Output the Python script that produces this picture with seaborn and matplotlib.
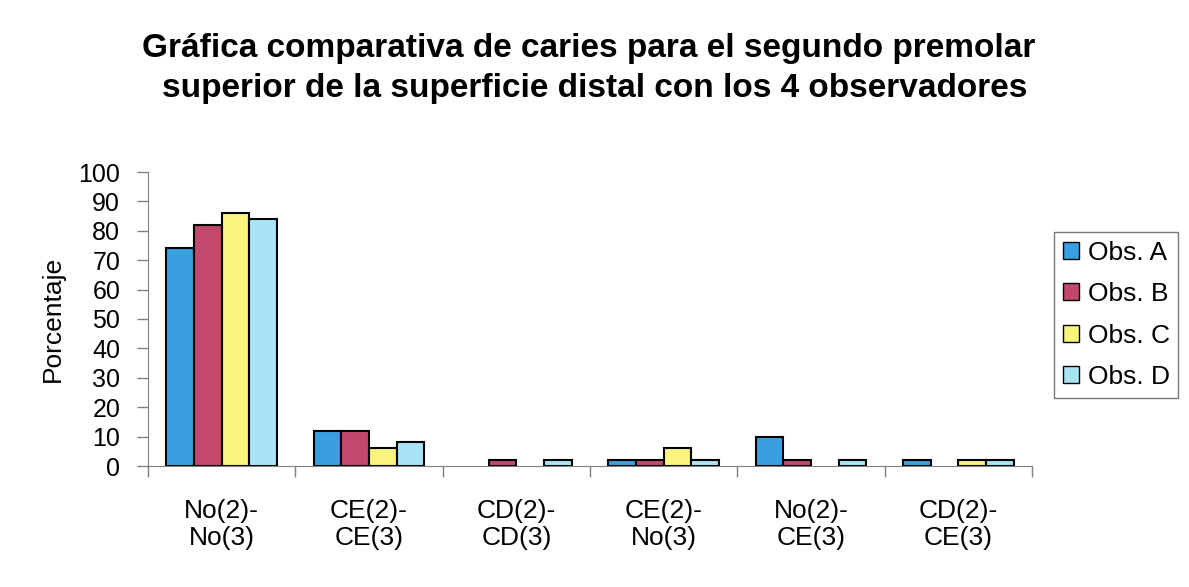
import matplotlib
matplotlib.use("Agg")
import matplotlib.pyplot as plt
import seaborn as sns
import pandas as pd
import numpy as np
from matplotlib.ticker import FixedLocator

categories = ["No(2)-\nNo(3)", "CE(2)-\nCE(3)", "CD(2)-\nCD(3)", "CE(2)-\nNo(3)", "No(2)-\nCE(3)", "CD(2)-\nCE(3)"]
series = ["Obs. A", "Obs. B", "Obs. C", "Obs. D"]
obs_a = [74, 12, 0, 2, 10, 2]
obs_b = [82, 12, 2, 2, 2, 0]
obs_c = [86, 6, 0, 6, 0, 2]
obs_d = [84, 8, 2, 2, 2, 2]
colors = ["#3a9fe0", "#c2496c", "#f8f47c", "#a8e4f6"]

rows = []
for s, vals in zip(series, [obs_a, obs_b, obs_c, obs_d]):
    for c, v in zip(categories, vals):
        rows.append({"cat": c, "obs": s, "val": v})
df = pd.DataFrame(rows)

sns.set_style("white")
plt.rcParams['font.family'] = ['Liberation Sans', 'DejaVu Sans']
plt.rcParams['text.color'] = 'black'
plt.rcParams['xtick.color'] = '#808080'
plt.rcParams['ytick.color'] = '#808080'
plt.rcParams['xtick.labelcolor'] = 'black'
plt.rcParams['ytick.labelcolor'] = 'black'
plt.rcParams['axes.labelcolor'] = 'black'

fig = plt.figure(figsize=(11.89, 5.87), dpi=100)
ax = fig.add_axes([148/1189, 1 - 466/587, 884/1189, 294/587])
sns.barplot(data=df, x="cat", y="val", hue="obs", palette=colors, width=0.75,
            edgecolor="black", linewidth=1.5, saturation=1, ax=ax)
for p in ax.patches:
    if p.get_height() == 0:
        p.set_linewidth(0)
ax.set_ylim(0, 100)
ax.set_xlim(-0.5, 5.5)
ax.set_yticks(np.arange(0, 101, 10))
ax.tick_params(axis='y', labelsize=18, length=8, width=1, direction='out', left=True, pad=12)
ax.tick_params(axis='x', which='major', labelsize=19, length=0, pad=24)
for t in ax.get_xticklabels():
    t.set_linespacing(1.12)
ax.xaxis.set_minor_locator(FixedLocator(np.arange(-0.5, 6, 1)))
ax.tick_params(axis='x', which='minor', length=8, width=1, direction='out', bottom=True)
ax.set_xlabel("")
ax.set_ylabel("Porcentaje", fontsize=19, labelpad=10)
for sp in ["top", "right"]:
    ax.spines[sp].set_visible(False)
ax.spines["left"].set_color("#808080")
ax.spines["bottom"].set_color("#808080")

leg = ax.legend(loc="upper left", bbox_to_anchor=(1054/1189, 1 - 232/587),
                bbox_transform=fig.transFigure, fontsize=19, frameon=True,
                fancybox=False, edgecolor="#555555", handlelength=0.6,
                handleheight=0.6, handletextpad=0.35, labelspacing=0.66, borderpad=0.33,
                borderaxespad=0)
leg.get_frame().set_linewidth(1)
for h in leg.legend_handles:
    h.set_edgecolor("black")
    h.set_linewidth(1)

fig.text(589/1189, 1 - 48/587, "Gráfica comparativa de caries para el segundo premolar",
         ha="center", va="center", fontsize=24, fontweight="bold")
fig.text(595/1189, 1 - 89/587, "superior de la superficie distal con los 4 observadores",
         ha="center", va="center", fontsize=24, fontweight="bold")

fig.savefig("out.png", dpi=100)
